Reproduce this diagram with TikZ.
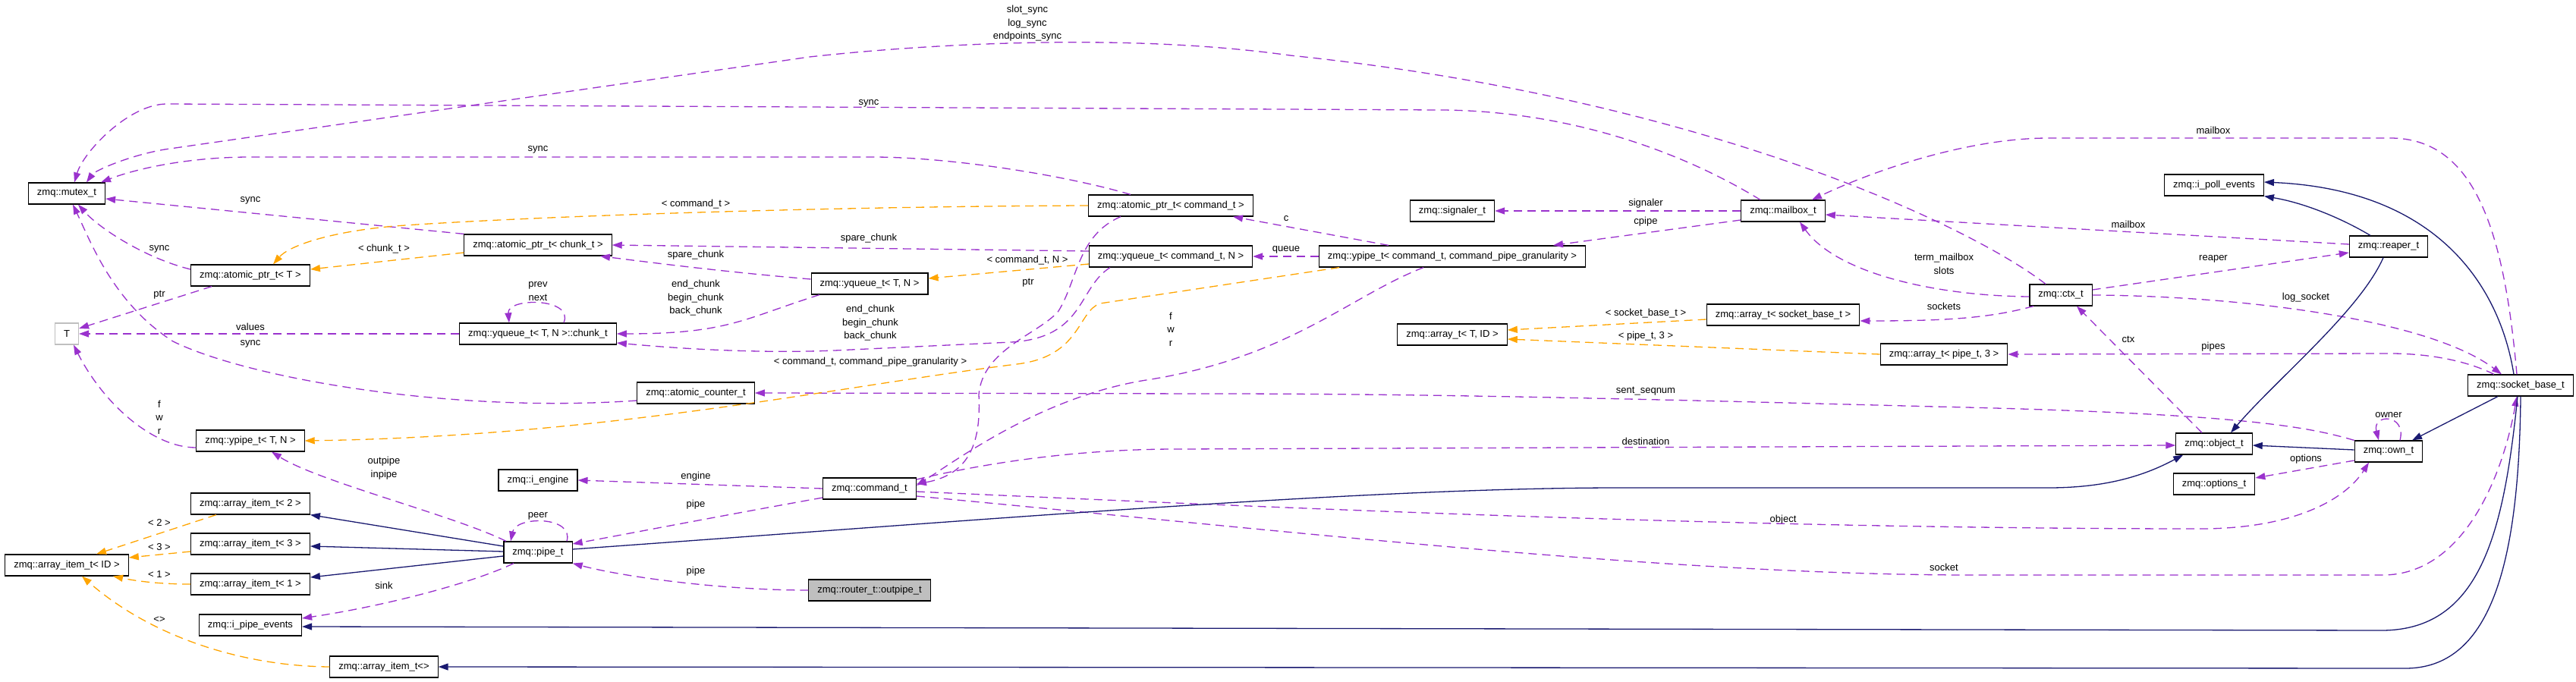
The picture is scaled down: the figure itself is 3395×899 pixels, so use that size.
\documentclass[tikz,border=0pt]{standalone}
\usepackage{fontspec}
\setmainfont{Liberation Sans}
\usetikzlibrary{
    calc,
    arrows.meta
}
\definecolor{OrchidDark}{HTML}{9A32CD}
\definecolor{OrangeTempl}{HTML}{FFA500}
\definecolor{NavyInherit}{HTML}{191970}
\definecolor{GreyNode}{HTML}{BFBFBF}

\begin{document}
\begin{tikzpicture}[
    x=1pt, y=-1pt,
    every node/.style={font=\fontsize{13}{17.5}\selectfont},
    classbox/.style={draw=black, line width=1.2pt, fill=white,
        minimum height=28pt, inner xsep=11.5pt, inner ysep=0pt},
    usage/.style={draw=OrchidDark, line width=1.3pt,
        dash pattern=on 11pt off 7pt,
        -{Triangle[length=13pt,width=9pt]}},
    templ/.style={usage, draw=OrangeTempl},
    inherit/.style={draw=NavyInherit, line width=1.3pt,
        -{Triangle[length=13pt,width=9pt]}},
    edgelabel/.style={inner sep=0pt, align=center}
]
\path[use as bounding box, fill=white] (0,0) rectangle (3395,899);

\node[classbox] (mutex) at (88,255) {zmq::mutex\_t};
\node[classbox] (atomicT) at (330,363) {zmq::atomic\_ptr\_t< T >};
\node[classbox] (atomicchunk) at (709,323) {zmq::atomic\_ptr\_t< chunk\_t >};
\node[classbox, draw=GreyNode] (Tparam) at (88,440) {T};
\node[classbox] (chunk) at (709,440) {zmq::yqueue\_t< T, N >::chunk\_t};
\node[classbox] (ypipeT) at (330,581) {zmq::ypipe\_t< T, N >};
\node[classbox] (itemtwo) at (330,664) {zmq::array\_item\_t< 2 >};
\node[classbox] (itemthree) at (330,717) {zmq::array\_item\_t< 3 >};
\node[classbox] (itemone) at (330,770) {zmq::array\_item\_t< 1 >};
\node[classbox] (itemID) at (88,745) {zmq::array\_item\_t< ID >};
\node[classbox] (ipipeev) at (330,824) {zmq::i\_pipe\_events};
\node[classbox] (itemempty) at (506,879) {zmq::array\_item\_t<>};
\node[classbox] (pipe) at (709,728) {zmq::pipe\_t};
\node[classbox] (iengine) at (709,633) {zmq::i\_engine};
\node[classbox] (atomiccounter) at (917,518) {zmq::atomic\_counter\_t};
\node[classbox] (atomiccmd) at (1543,271) {zmq::atomic\_ptr\_t< command\_t >};
\node[classbox] (yqueuecmd) at (1543,338) {zmq::yqueue\_t< command\_t, N >};
\node[classbox] (yqueueT) at (1146,374) {zmq::yqueue\_t< T, N >};
\node[classbox] (command) at (1146,644) {zmq::command\_t};
\node[classbox, fill=GreyNode] (outpipe) at (1146,778) {zmq::router\_t::outpipe\_t};
\node[classbox] (signaler) at (1914,278) {zmq::signaler\_t};
\node[classbox] (ypipecmd) at (1914,338) {zmq::ypipe\_t< command\_t, command\_pipe\_granularity >};
\node[classbox] (mailbox) at (2350,278) {zmq::mailbox\_t};
\node[classbox] (arraysock) at (2350,415) {zmq::array\_t< socket\_base\_t >};
\node[classbox] (arrayTID) at (1914,441) {zmq::array\_t< T, ID >};
\node[classbox] (arraypipe) at (2562,467) {zmq::array\_t< pipe\_t, 3 >};
\node[classbox] (ipoll) at (2918,244) {zmq::i\_poll\_events};
\node[classbox] (reaper) at (3148,325) {zmq::reaper\_t};
\node[classbox] (ctx) at (2716,389) {zmq::ctx\_t};
\node[classbox] (object) at (2918,585) {zmq::object\_t};
\node[classbox] (own) at (3148,595) {zmq::own\_t};
\node[classbox] (options) at (2918,638) {zmq::options\_t};
\node[classbox] (socketbase) at (3322,508) {zmq::socket\_base\_t};

\node[edgelabel] (lslots) at (1354,31) {slot\_sync\\log\_sync\\endpoints\_sync};
\node[edgelabel] (lsyncmail) at (1145,136) {sync};
\node[edgelabel] (lsynccmd) at (709,197) {sync};
\node[edgelabel] (lsyncchunk) at (330,264) {sync};
\node[edgelabel] (lsyncT) at (210,328) {sync};
\node[edgelabel] (lchunkt) at (506,328) {< chunk\_t >};
\node[edgelabel] (lcmdt) at (917,269) {< command\_t >};
\node[edgelabel] (lptrT) at (210,389) {ptr};
\node[edgelabel] (lvalues) at (330,431) {values};
\node[edgelabel] (lsynccounter) at (330,453) {sync};
\node[edgelabel] (lprevnext) at (709,384) {prev\\next};
\node[edgelabel] (lfwrT) at (210,550) {f\\w\\r};
\node[edgelabel] (lsparecmd) at (1145,314) {spare\_chunk};
\node[edgelabel] (lspareT) at (917,336) {spare\_chunk};
\node[edgelabel] (lcmdN) at (1354,343) {< command\_t, N >};
\node[edgelabel] (lptrcmd) at (1355,373) {ptr};
\node[edgelabel] (lchunksT) at (917,393) {end\_chunk\\begin\_chunk\\back\_chunk};
\node[edgelabel] (lchunkscmd) at (1147,426) {end\_chunk\\begin\_chunk\\back\_chunk};
\node[edgelabel] (lfwrcmd) at (1543,434) {f\\w\\r};
\node[edgelabel] (lc) at (1695,288) {c};
\node[edgelabel] (lqueue) at (1695,329) {queue};
\node[edgelabel] (lgran) at (1147,477) {< command\_t, command\_pipe\_granularity >};
\node[edgelabel] (linoutpipe) at (506,617) {outpipe\\inpipe};
\node[edgelabel] (lengine) at (917,628) {engine};
\node[edgelabel] (lpipecmd) at (917,665) {pipe};
\node[edgelabel] (lpipeout) at (917,753) {pipe};
\node[edgelabel] (lpeer) at (709,680) {peer};
\node[edgelabel] (lsink) at (506,772) {sink};
\node[edgelabel] (ltwo) at (210,689) {< 2 >};
\node[edgelabel] (lthree) at (210,721) {< 3 >};
\node[edgelabel] (lone) at (210,757) {< 1 >};
\node[edgelabel] (lempty) at (210,817) {<>};
\node[edgelabel] (lsignaler) at (2169,268) {signaler};
\node[edgelabel] (lcpipe) at (2169,292) {cpipe};
\node[edgelabel] (lsockbase) at (2169,413) {< socket\_base\_t >};
\node[edgelabel] (lpipethree) at (2169,443) {< pipe\_t, 3 >};
\node[edgelabel] (lterm) at (2562,348) {term\_mailbox\\slots};
\node[edgelabel] (lsockets) at (2562,404) {sockets};
\node[edgelabel] (lseqnum) at (2169,516) {sent\_seqnum};
\node[edgelabel] (ldest) at (2169,582) {destination};
\node[edgelabel] (lobject) at (2350,685) {object};
\node[edgelabel] (lsocket) at (2562,748) {socket};
\node[edgelabel] (lmailtop) at (2917,172) {mailbox};
\node[edgelabel] (lmailreaper) at (2805,296) {mailbox};
\node[edgelabel] (lreaper) at (2917,341) {reaper};
\node[edgelabel] (llogsocket) at (3039,392) {log\_socket};
\node[edgelabel] (lctx) at (2805,447) {ctx};
\node[edgelabel] (lpipes) at (2917,457) {pipes};
\node[edgelabel] (lowner) at (3148,547) {owner};
\node[edgelabel] (loptions) at (3039,605) {options};

\draw[usage] ($(ctx.north)+(-20,0)$) .. controls (2600,300) and (2250,130) .. (1700,73)
    .. controls (1500,45) and (1250,55) .. (1067,75) -- (217,197)
    .. controls (170,205) and (125,225) .. ($(mutex.north)+(26,0)$);
\draw[usage] ($(mailbox.north)+(-30,0)$) .. controls (2200,190) and (2050,146) .. (1900,145)
    -- (220,137) .. controls (170,137) and (110,200) .. ($(mutex.north)+(10,0)$);
\draw[usage] ($(atomiccmd.north)+(-53,0)$) .. controls (1400,230) and (1250,207) .. (1150,207)
    -- (330,207) .. controls (250,207) and (180,222) .. ($(mutex.north)+(45,0)$);
\draw[usage] (atomicchunk.north west) -- ($(mutex.east)+(0,7)$);
\draw[usage] ($(atomicT.west)+(0,-8)$) .. controls (190,340) and (130,300) .. ($(mutex.south)+(15,0)$);
\draw[usage] ($(atomiccounter.west)+(0,10)$) .. controls (600,545) and (330,500) .. (228,450)
    .. controls (150,400) and (120,320) .. ($(mutex.south)+(8,0)$);
\draw[usage] ($(atomicT.south west)+(28,0)$) -- ($(Tparam.east)+(0,-7)$);
\draw[usage] (chunk.west) -- (Tparam.east);
\draw[usage] ($(ypipeT.west)+(0,9)$) .. controls (200,590) and (135,530) .. ($(Tparam.south)+(9,0)$);
\draw[usage] ($(chunk.north)+(34,0)$) .. controls (757,392) and (668,392) .. ($(chunk.north)+(-38,0)$);
\draw[usage] ($(yqueueT.west)+(0,-6)$) .. controls (950,358) and (850,345) .. ($(atomicchunk.south)+(82,0)$);
\draw[usage] ($(yqueuecmd.west)+(0,-7)$) -- (atomicchunk.east);
\draw[usage] ($(yqueueT.south)+(-66,0)$) .. controls (980,420) and (960,440) .. (chunk.east);
\draw[usage] ($(yqueuecmd.south)+(-80,0)$) .. controls (1420,380) and (1430,445) .. (1333,451)
    -- (1100,462) .. controls (1000,466) and (900,460) .. ($(chunk.east)+(0,12)$);
\draw[usage] ($(atomiccmd.south)+(-66,0)$) .. controls (1420,310) and (1420,370) .. (1395,410)
    .. controls (1370,440) and (1295,460) .. (1290,520)
    .. controls (1293,580) and (1280,625) .. ($(command.east)+(0,-6)$);
\draw[usage] ($(ypipecmd.south)+(-38,0)$) .. controls (1780,390) and (1700,470) .. (1517,500)
    .. controls (1380,520) and (1270,600) .. ($(command.east)+(0,-4)$);
\draw[usage] ($(ypipecmd.north)+(-84,0)$) -- ($(atomiccmd.south)+(82,0)$);
\draw[usage] (ypipecmd.west) -- (yqueuecmd.east);
\draw[usage] (mailbox.west) -- (signaler.east);
\draw[usage] ($(mailbox.west)+(0,12)$) -- ($(ypipecmd.north)+(133,0)$);
\draw[usage] ($(socketbase.north)+(-5,0)$) .. controls (3300,300) and (3260,182) .. (3150,182)
    -- (2700,182) .. controls (2600,182) and (2480,220) .. ($(mailbox.north)+(38,0)$);
\draw[usage] ($(reaper.west)+(0,-3)$) -- ($(mailbox.east)+(0,5)$);
\draw[usage] ($(ctx.west)+(0,2)$) .. controls (2550,390) and (2420,360) .. ($(mailbox.south)+(22,0)$);
\draw[usage] ($(ctx.south)+(-36,0)$) .. controls (2620,420) and (2560,423) .. ($(arraysock.east)+(0,8)$);
\draw[usage] ($(ctx.east)+(0,-7)$) -- ($(reaper.west)+(0,8)$);
\draw[usage] (ctx.east) .. controls (2950,390) and (3200,420) .. ($(socketbase.north)+(-25,0)$);
\draw[usage] ($(socketbase.north)+(-35,0)$) .. controls (3250,475) and (3200,466) .. (3150,466)
    -- (arraypipe.east);
\draw[usage] ($(object.north)+(-16,0)$) -- ($(ctx.south)+(21,0)$);
\draw[usage] ($(command.east)+(0,-12)$) .. controls (1300,610) and (1420,592) .. (1550,592)
    -- ($(object.west)+(0,2)$);
\draw[usage] ($(command.east)+(0,4)$) .. controls (1700,670) and (2300,697) .. (2900,697)
    .. controls (3020,697) and (3090,660) .. ($(own.south)+(-26,0)$);
\draw[usage] ($(command.east)+(0,10)$) .. controls (1700,700) and (2200,758) .. (2600,758)
    -- (3140,758) .. controls (3250,758) and (3300,620) .. ($(socketbase.south)+(-5,0)$);
\draw[usage] (own.north west) .. controls (3040,562) and (2950,545) .. (2550,536)
    .. controls (2200,527) and (1900,519) .. (1600,519) -- (atomiccounter.east);
\draw[usage] (command.west) -- (iengine.east);
\draw[usage] ($(command.west)+(0,12)$) .. controls (950,680) and (820,705) .. ($(pipe.east)+(0,-11)$);
\draw[usage] (outpipe.west) .. controls (950,778) and (820,760) .. (pipe.south east);
\draw[usage] ($(pipe.north)+(-42,0)$) .. controls (600,680) and (420,635) .. ($(ypipeT.south)+(28,0)$);
\draw[usage] ($(pipe.north)+(38,0)$) .. controls (757,680) and (680,680) .. ($(pipe.north)+(-36,0)$);
\draw[usage] ($(pipe.south)+(-32,0)$) .. controls (620,770) and (500,800) .. ($(ipipeev.east)+(0,-9)$);
\draw[usage] ($(own.west)+(0,12)$) -- ($(options.east)+(0,-8)$);
\draw[usage] ($(own.north)+(15,0)$) .. controls (3172,545) and (3126,545) .. ($(own.north)+(-13,0)$);

\draw[templ] ($(atomicchunk.west)+(0,10)$) -- ($(atomicT.east)+(0,-8)$);
\draw[templ] (atomiccmd.west) .. controls (1100,272) and (700,285) .. (520,298)
    .. controls (430,306) and (380,325) .. ($(atomicT.north)+(30,0)$);
\draw[templ] ($(yqueuecmd.west)+(0,10)$) -- ($(yqueueT.east)+(0,-7)$);
\draw[templ] ($(ypipecmd.south)+(-149,0)$) -- (1450,400)
    .. controls (1420,410) and (1425,470) .. (1340,480)
    .. controls (1100,510) and (800,575) .. (ypipeT.east);
\draw[templ] ($(arraysock.west)+(0,6)$) -- ($(arrayTID.east)+(0,-6)$);
\draw[templ] (arraypipe.west) -- ($(arrayTID.east)+(0,6)$);
\draw[templ] ($(itemtwo.south)+(-45,0)$) -- ($(itemID.north)+(39,0)$);
\draw[templ] ($(itemthree.west)+(0,10)$) -- ($(itemID.east)+(0,-10)$);
\draw[templ] (itemone.west) .. controls (210,770) and (180,766) .. ($(itemID.south)+(61,0)$);
\draw[templ] (itemempty.west) .. controls (320,878) and (200,840) .. ($(itemID.south)+(20,0)$);

\draw[inherit] ($(pipe.west)+(0,-8)$) -- (itemtwo.south east);
\draw[inherit] ($(pipe.west)+(0,-1)$) -- ($(itemthree.east)+(0,3)$);
\draw[inherit] ($(pipe.west)+(0,5)$) -- ($(itemone.east)+(0,-9)$);
\draw[inherit] ($(pipe.east)+(0,-4)$) .. controls (1300,685) and (1800,643) .. (2134,643)
    -- (2700,643) .. controls (2780,643) and (2830,625) .. ($(object.south west)+(10,0)$);
\draw[inherit] ($(reaper.north)+(-24,0)$) .. controls (3090,290) and (3040,268) .. (ipoll.south east);
\draw[inherit] ($(socketbase.north)+(-9,0)$) .. controls (3295,380) and (3215,250) .. ($(ipoll.east)+(0,-4)$);
\draw[inherit] ($(reaper.south)+(-7,0)$) .. controls (3110,410) and (3000,500) .. ($(object.north)+(22,0)$);
\draw[inherit] ($(own.west)+(0,-2)$) -- ($(object.east)+(0,2)$);
\draw[inherit] ($(socketbase.south)+(-30,0)$) -- ($(own.north)+(31,0)$);
\draw[inherit] ($(socketbase.south)+(-4,0)$) .. controls (3300,700) and (3270,830) .. (3140,831)
    -- ($(ipipeev.east)+(0,2)$);
\draw[inherit] (socketbase.south) .. controls (3320,750) and (3280,881) .. (3170,881)
    -- (itemempty.east);
\end{tikzpicture}
\end{document}
